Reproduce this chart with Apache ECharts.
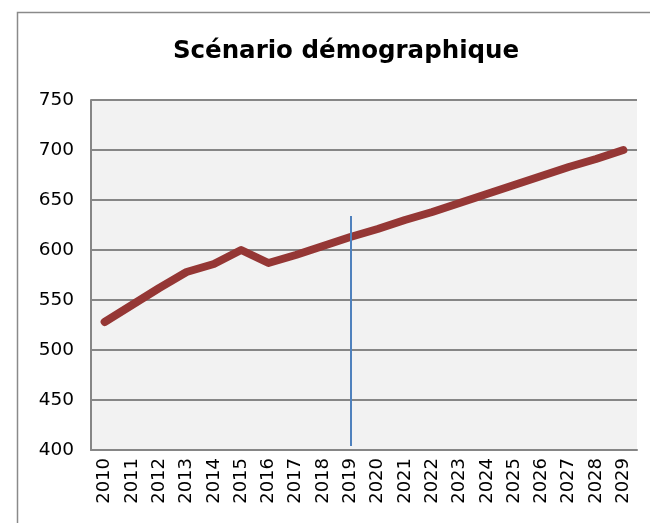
<!DOCTYPE html>
<html><head><meta charset="utf-8">
<script src="https://cdn.jsdelivr.net/npm/echarts@6/dist/echarts.min.js"></script>
<style>html,body{margin:0;padding:0;background:#fff}#c{width:650px;height:523px}</style>
</head><body><div id="c"></div>
<script>
var years = ['2010','2011','2012','2013','2014','2015','2016','2017','2018','2019','2020','2021','2022','2023','2024','2025','2026','2027','2028','2029'];
var population = [528,545,562,578,586,600,587,595,604,613,621,630,638,647,656,665,674,683,691,700];
var yTicks = {min:400, max:750, interval:50};
var markerYear = '2019';
var markerRange = [404, 634];

var chart = echarts.init(document.getElementById('c'), null, {renderer:'canvas'});
chart.setOption({
  animation:false,
  backgroundColor:'#fff',
  title:{text:'Scénario démographique', left:341, top:34, textAlign:'center',
    textStyle:{fontFamily:'DejaVu Sans', fontWeight:'bold', fontSize:24.5, color:'#000'}},
  graphic:[{type:'rect', shape:{x:17.5,y:12.5,width:660,height:540},
    style:{fill:'none', stroke:'#8a8a8a', lineWidth:1.5}, silent:true}],
  grid:{left:91, top:100, right:13, bottom:73, backgroundColor:'#f2f2f2', show:true, borderWidth:0},
  xAxis:{type:'category', data:years, boundaryGap:true,
    axisLine:{lineStyle:{color:'#868686', width:2}},
    axisTick:{show:false},
    axisLabel:{rotate:90, fontFamily:'DejaVu Sans', fontSize:18, color:'#000', margin:8, interval:0}},
  yAxis:{type:'value', min:yTicks.min, max:yTicks.max, interval:yTicks.interval,
    axisLine:{show:true, lineStyle:{color:'#868686', width:2}},
    axisTick:{show:false},
    splitLine:{lineStyle:{color:'#868686', width:2}},
    axisLabel:{fontFamily:'DejaVu Sans', fontSize:18.5, color:'#000', margin:17}},
  series:[{type:'line', data:population, symbol:'none', lineStyle:{color:'#953735', width:8, cap:'round', join:'round'},
    markLine:{symbol:'none', silent:true, label:{show:false},
      lineStyle:{color:'#4f81bd', width:2, type:'solid'},
      data:[[{coord:[markerYear, markerRange[0]]},{coord:[markerYear, markerRange[1]]}]]}}]
});
</script></body></html>
